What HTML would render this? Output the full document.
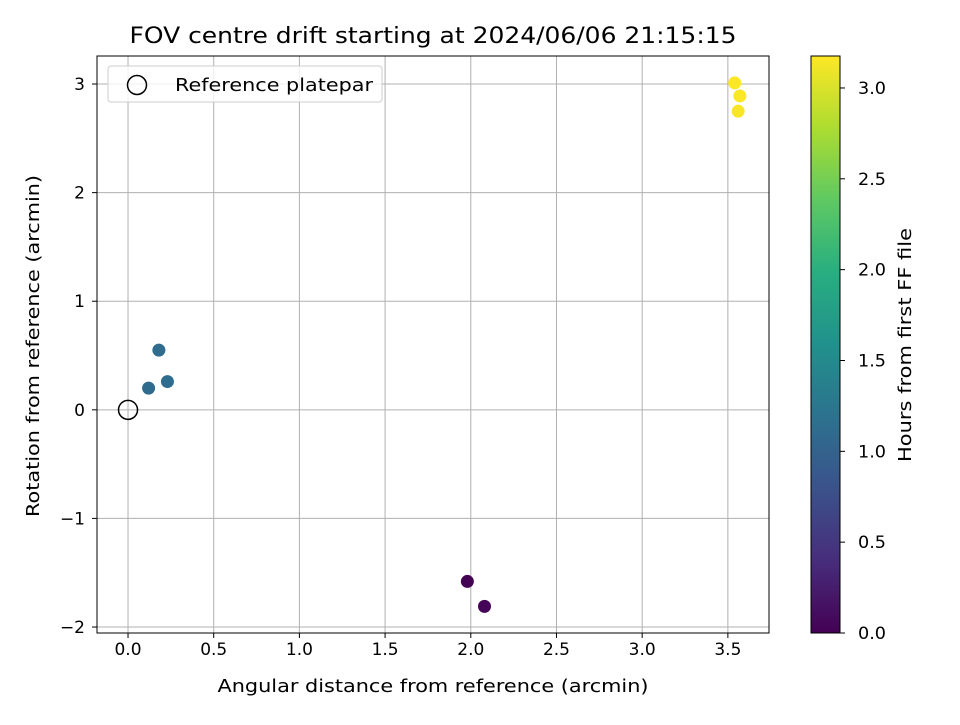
<!DOCTYPE html>
<html><head><meta charset="utf-8"><style>
body{margin:0;background:#fff;font-family:"Liberation Sans","DejaVu Sans",sans-serif}
svg text{font-family:"DejaVu Sans","Liberation Sans",sans-serif}
</style></head><body>
<svg id="chart" width="960" height="720" xmlns="http://www.w3.org/2000/svg">
<defs><linearGradient id="vir" x1="0" y1="1" x2="0" y2="0">
<stop offset="0" stop-color="#440154"/><stop offset="0.125" stop-color="#472d7b"/><stop offset="0.25" stop-color="#3b528b"/><stop offset="0.375" stop-color="#2c728e"/><stop offset="0.5" stop-color="#21918c"/><stop offset="0.625" stop-color="#28ae80"/><stop offset="0.75" stop-color="#5ec962"/><stop offset="0.875" stop-color="#addc30"/><stop offset="1" stop-color="#fde725"/></linearGradient></defs>
<g id="plot"></g>
</svg>
<script>
const xs=[0.12,0.18,0.23,1.98,2.08,3.54,3.57,3.56];
const ys=[0.20,0.55,0.26,-1.58,-1.81,3.01,2.89,2.75];
const hours=[1.1,1.12,1.13,0.0,0.03,3.17,3.16,3.15];
const xTicks=[0,0.5,1.0,1.5,2.0,2.5,3.0,3.5];
const yTicks=[-2,-1,0,1,2,3];
const cTicks=[0,0.5,1.0,1.5,2.0,2.5,3.0];
const L=97,R=769,T=56,B=633,xmin=-0.181,xmax=3.74,ymin=-2.055,ymax=3.258,cmax=3.176;
const sx=v=>L+(v-xmin)/(xmax-xmin)*(R-L), sy=v=>B-(v-ymin)/(ymax-ymin)*(B-T);
const vir=["#440154","#472d7b","#3b528b","#2c728e","#21918c","#28ae80","#5ec962","#addc30","#fde725"];
function hx(c){return [1,3,5].map(i=>parseInt(c.substr(i,2),16));}
function cmap(t){t=Math.max(0,Math.min(1,t))*8;const i=Math.min(7,Math.floor(t)),f=t-i;const a=hx(vir[i]),b=hx(vir[i+1]);return "rgb("+a.map((v,k)=>Math.round(v+(b[k]-v)*f)).join(",")+")";}
const g=document.getElementById('plot');const NS="http://www.w3.org/2000/svg";
function el(tag,at,txt){const e=document.createElementNS(NS,tag);for(const k in at)e.setAttribute(k,at[k]);if(txt!==undefined)e.textContent=txt;g.appendChild(e);return e;}
let e;
xTicks.forEach(v=>{const x=sx(v);
e=el('line',{x1:x,x2:x,y1:T,y2:B,stroke:'#b0b0b0','stroke-width':1});
e=el('line',{x1:x,x2:x,y1:B,y2:B+5,stroke:'#000'});
e=el('text',{x:x,y:B+22,'font-size':17,'text-anchor':'middle'},v.toFixed(1));});
yTicks.forEach(v=>{const y=sy(v);
e=el('line',{x1:L,x2:R,y1:y,y2:y,stroke:'#b0b0b0','stroke-width':1});
e=el('line',{x1:L-5,x2:L,y1:y,y2:y,stroke:'#000'});
e=el('text',{x:L-12,y:y+6,'font-size':17,'text-anchor':'end'},v<0?'\u2212'+Math.abs(v):String(v));});
xs.forEach((v,i)=>{e=el('circle',{cx:sx(v),cy:sy(ys[i]),r:6.5,fill:cmap(hours[i]/cmax)});});
e=el('circle',{cx:sx(0),cy:sy(0),r:9.5,fill:'none',stroke:'#000','stroke-width':1.5});
e=el('rect',{x:L,y:T,width:R-L,height:B-T,fill:'none',stroke:'#000','stroke-width':1});
e=el('rect',{x:108,y:66,width:274,height:36,rx:3,fill:'#fff','fill-opacity':0.8,stroke:'#ccc'});
e=el('circle',{cx:137,cy:85,r:9.5,fill:'none',stroke:'#000','stroke-width':1.5});
e=el('text',{x:175,y:91,'font-size':18,textLength:198,lengthAdjust:'spacingAndGlyphs'},'Reference platepar');
e=el('text',{x:433,y:43,'font-size':22,'text-anchor':'middle',textLength:607,lengthAdjust:'spacingAndGlyphs'},'FOV centre drift starting at 2024/06/06 21:15:15');
e=el('text',{x:433,y:692,'font-size':18,'text-anchor':'middle',textLength:431,lengthAdjust:'spacingAndGlyphs'},'Angular distance from reference (arcmin)');
e=el('text',{x:0,y:0,'font-size':18,'text-anchor':'middle',textLength:342,lengthAdjust:'spacingAndGlyphs',transform:'translate(39,346) rotate(-90)'},'Rotation from reference (arcmin)');
const CL=811,CR=840;
e=el('rect',{x:CL,y:T,width:CR-CL,height:B-T,fill:'url(#vir)',stroke:'#000'});
cTicks.forEach(v=>{const y=B-v/cmax*(B-T);
e=el('line',{x1:CR,x2:CR+5,y1:y,y2:y,stroke:'#000'});
e=el('text',{x:CR+18,y:y+6,'font-size':17,textLength:28,lengthAdjust:'spacingAndGlyphs'},v.toFixed(1));});
e=el('text',{x:0,y:0,'font-size':18,'text-anchor':'middle',textLength:234,lengthAdjust:'spacingAndGlyphs',transform:'translate(911,345) rotate(-90)'},'Hours from first FF file');
</script>
</body></html>
